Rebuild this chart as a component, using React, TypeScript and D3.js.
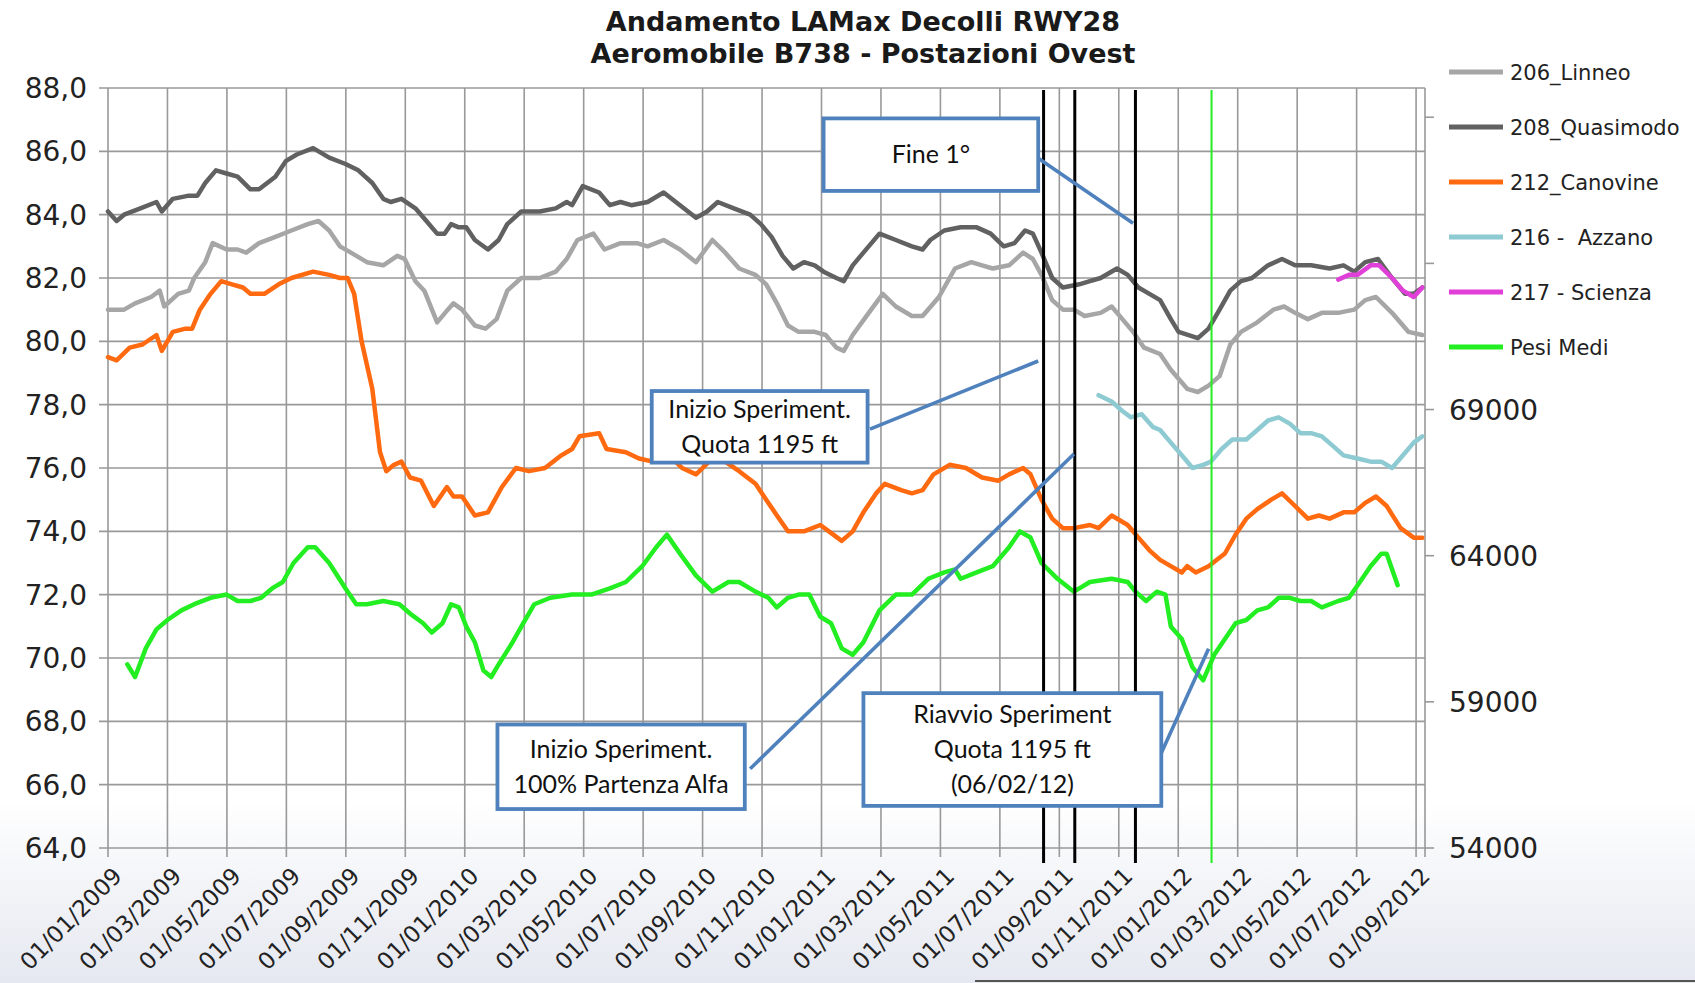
import { useEffect, useRef } from 'react'
import * as d3 from 'd3'

const W = 1695
const H = 983

// x values are months since 01/01/2009 (fractional)
const DATE_LABELS = [
  '01/01/2009', '01/03/2009', '01/05/2009', '01/07/2009', '01/09/2009', '01/11/2009',
  '01/01/2010', '01/03/2010', '01/05/2010', '01/07/2010', '01/09/2010', '01/11/2010',
  '01/01/2011', '01/03/2011', '01/05/2011', '01/07/2011', '01/09/2011', '01/11/2011',
  '01/01/2012', '01/03/2012', '01/05/2012', '01/07/2012', '01/09/2012',
]
const LEFT_TICKS = [64, 66, 68, 70, 72, 74, 76, 78, 80, 82, 84, 86, 88]
const RIGHT_TICKS = [54000, 59000, 64000, 69000, 74000, 79000]
const RIGHT_LABELS = [54000, 59000, 64000, 69000]

const LINNEO: [number, number][] = [
  [0, 81.0], [0.54, 81.0], [0.91, 81.2], [1.45, 81.4], [1.74, 81.6], [1.89, 81.1], [2.36, 81.5], [2.72, 81.6],
  [2.9, 82.0], [3.27, 82.5], [3.52, 83.1], [3.99, 82.9], [4.36, 82.9], [4.65, 82.8], [5.08, 83.1], [5.63, 83.3],
  [6.17, 83.5], [6.72, 83.7], [7.08, 83.8], [7.44, 83.5], [7.8, 83.0], [8.17, 82.8], [8.71, 82.5], [9.26, 82.4],
  [9.73, 82.7], [9.98, 82.6], [10.34, 81.9], [10.64, 81.6], [11.07, 80.6], [11.43, 81.0], [11.62, 81.2], [11.91, 81.0],
  [12.34, 80.5], [12.7, 80.4], [13.07, 80.7], [13.43, 81.6], [13.9, 82.0], [14.52, 82.0], [15.06, 82.2], [15.43, 82.6],
  [15.79, 83.2], [16.33, 83.4], [16.7, 82.9], [17.24, 83.1], [17.79, 83.1], [18.15, 83.0], [18.69, 83.2], [19.24, 82.9],
  [19.78, 82.5], [20.33, 83.2], [20.76, 82.8], [21.23, 82.3], [21.78, 82.1], [22.14, 81.8], [22.5, 81.2], [22.87, 80.5],
  [23.23, 80.3], [23.77, 80.3], [24.14, 80.2], [24.5, 79.8], [24.75, 79.7], [25.05, 80.2], [25.59, 80.9], [26.06, 81.5],
  [26.5, 81.1], [27.04, 80.8], [27.4, 80.8], [27.95, 81.4], [28.49, 82.3], [29.04, 82.5], [29.4, 82.4], [29.76, 82.3],
  [30.31, 82.4], [30.78, 82.8], [31.11, 82.6], [31.4, 82.1], [31.76, 81.3], [32.12, 81.0], [32.49, 81.0], [32.85, 80.8],
  [33.39, 80.9], [33.76, 81.1], [34.12, 80.7], [34.48, 80.3], [34.85, 79.8], [35.39, 79.6], [35.75, 79.1], [36.3, 78.5],
  [36.66, 78.4], [37.02, 78.6], [37.39, 78.9], [37.75, 79.9], [38.11, 80.3], [38.66, 80.6], [39.2, 81.0], [39.56, 81.1],
  [39.93, 80.9], [40.36, 80.7], [40.83, 80.9], [41.38, 80.9], [41.92, 81.0], [42.29, 81.3], [42.65, 81.4], [43.19, 80.9],
  [43.74, 80.3], [44.21, 80.2],
]

const QUASIMODO: [number, number][] = [
  [0, 84.1], [0.29, 83.8], [0.54, 84.0], [1.09, 84.2], [1.63, 84.4], [1.81, 84.1], [2.18, 84.5], [2.72, 84.6],
  [3.01, 84.6], [3.27, 85.0], [3.63, 85.4], [3.99, 85.3], [4.36, 85.2], [4.79, 84.8], [5.08, 84.8], [5.63, 85.2],
  [5.99, 85.7], [6.35, 85.9], [6.9, 86.1], [7.44, 85.8], [7.99, 85.6], [8.42, 85.4], [8.89, 85.0], [9.26, 84.5],
  [9.51, 84.4], [9.87, 84.5], [10.34, 84.2], [10.71, 83.8], [11.07, 83.4], [11.32, 83.4], [11.54, 83.7], [11.8, 83.6],
  [12.05, 83.6], [12.34, 83.2], [12.78, 82.9], [13.14, 83.2], [13.43, 83.7], [13.9, 84.1], [14.52, 84.1], [15.06, 84.2],
  [15.43, 84.4], [15.61, 84.3], [15.97, 84.9], [16.52, 84.7], [16.88, 84.3], [17.24, 84.4], [17.6, 84.3], [18.15, 84.4],
  [18.69, 84.7], [19.24, 84.3], [19.78, 83.9], [20.15, 84.1], [20.51, 84.4], [21.05, 84.2], [21.6, 84.0], [21.96, 83.7],
  [22.32, 83.3], [22.69, 82.7], [23.05, 82.3], [23.41, 82.5], [23.77, 82.4], [24.07, 82.2], [24.5, 82.0], [24.75, 81.9],
  [25.05, 82.4], [25.41, 82.8], [25.95, 83.4], [26.5, 83.2], [27.04, 83.0], [27.4, 82.9], [27.66, 83.2], [28.13, 83.5],
  [28.68, 83.6], [29.22, 83.6], [29.69, 83.4], [30.13, 83.0], [30.49, 83.1], [30.85, 83.5], [31.11, 83.4], [31.4, 82.8],
  [31.76, 82.0], [32.12, 81.7], [32.67, 81.8], [33.03, 81.9], [33.39, 82.0], [33.94, 82.3], [34.3, 82.1], [34.66, 81.7],
  [35.03, 81.5], [35.39, 81.3], [35.75, 80.7], [36.01, 80.3], [36.66, 80.1], [37.02, 80.4], [37.39, 81.0], [37.75, 81.6],
  [38.11, 81.9], [38.48, 82.0], [39.02, 82.4], [39.49, 82.6], [39.93, 82.4], [40.47, 82.4], [41.09, 82.3], [41.56, 82.4],
  [41.92, 82.2], [42.29, 82.5], [42.72, 82.6], [43.19, 82.0], [43.63, 81.5], [43.92, 81.5], [44.21, 81.7],
]

const CANOVINE: [number, number][] = [
  [0, 79.5], [0.29, 79.4], [0.73, 79.8], [1.16, 79.9], [1.63, 80.2], [1.81, 79.7], [2.18, 80.3], [2.61, 80.4],
  [2.83, 80.4], [3.09, 81.0], [3.45, 81.5], [3.81, 81.9], [4.17, 81.8], [4.54, 81.7], [4.79, 81.5], [5.26, 81.5],
  [5.74, 81.8], [6.17, 82.0], [6.9, 82.2], [7.44, 82.1], [7.8, 82.0], [8.06, 82.0], [8.28, 81.5], [8.53, 80.0],
  [8.89, 78.5], [9.15, 76.5], [9.36, 75.9], [9.62, 76.1], [9.87, 76.2], [10.16, 75.7], [10.53, 75.6], [10.96, 74.8],
  [11.4, 75.4], [11.62, 75.1], [11.91, 75.1], [12.34, 74.5], [12.78, 74.6], [13.25, 75.4], [13.72, 76.0], [14.16, 75.9],
  [14.7, 76.0], [15.25, 76.4], [15.61, 76.6], [15.86, 77.0], [16.52, 77.1], [16.77, 76.6], [17.42, 76.5], [17.86, 76.3],
  [18.33, 76.2], [18.87, 76.4], [19.31, 76.0], [19.78, 75.8], [20.33, 76.3], [20.76, 76.2], [21.23, 75.9], [21.78, 75.5],
  [22.14, 75.0], [22.5, 74.5], [22.87, 74.0], [23.41, 74.0], [23.96, 74.2], [24.25, 74.0], [24.68, 73.7], [25.05, 74.0],
  [25.41, 74.6], [25.84, 75.2], [26.13, 75.5], [26.68, 75.3], [27.04, 75.2], [27.4, 75.3], [27.77, 75.8], [28.31, 76.1],
  [28.86, 76.0], [29.4, 75.7], [29.95, 75.6], [30.31, 75.8], [30.78, 76.0], [31.03, 75.8], [31.4, 75.0], [31.76, 74.4],
  [32.12, 74.1], [32.49, 74.1], [33.03, 74.2], [33.32, 74.1], [33.76, 74.5], [34.3, 74.2], [34.66, 73.8], [35.03, 73.4],
  [35.39, 73.1], [35.75, 72.9], [36.12, 72.7], [36.3, 72.9], [36.59, 72.7], [37.02, 72.9], [37.57, 73.3], [37.93, 73.9],
  [38.29, 74.4], [38.66, 74.7], [39.13, 75.0], [39.49, 75.2], [39.93, 74.8], [40.36, 74.4], [40.73, 74.5], [41.09, 74.4],
  [41.56, 74.6], [41.92, 74.6], [42.29, 74.9], [42.65, 75.1], [43.01, 74.8], [43.48, 74.1], [43.92, 73.8], [44.21, 73.8],
]

const AZZANO: [number, number][] = [
  [33.32, 78.3], [33.76, 78.1], [34.12, 77.8], [34.41, 77.6], [34.77, 77.7], [35.14, 77.3], [35.39, 77.2], [35.75, 76.8],
  [36.12, 76.4], [36.48, 76.0], [36.84, 76.1], [37.1, 76.2], [37.46, 76.6], [37.82, 76.9], [38.29, 76.9], [38.66, 77.2],
  [39.02, 77.5], [39.38, 77.6], [39.75, 77.4], [40.11, 77.1], [40.47, 77.1], [40.83, 77.0], [41.2, 76.7], [41.56, 76.4],
  [42.03, 76.3], [42.47, 76.2], [42.83, 76.2], [43.19, 76.0], [43.56, 76.4], [43.92, 76.8], [44.21, 77.0],
]

const SCIENZA: [number, number][] = [
  [41.38, 81.95], [41.74, 82.1], [42.03, 82.1], [42.47, 82.4], [42.76, 82.4], [43.19, 82.0], [43.56, 81.6],
  [43.92, 81.4], [44.21, 81.7],
]

// average weights (kg), right axis
const PESI_MEDI: [number, number][] = [
  [0.65, 60280], [0.91, 59850], [1.27, 60830], [1.63, 61480], [2.0, 61800], [2.47, 62130], [2.9, 62340], [3.45, 62560],
  [3.99, 62670], [4.36, 62450], [4.79, 62450], [5.15, 62560], [5.52, 62880], [5.88, 63100], [6.24, 63750], [6.72, 64290],
  [6.97, 64290], [7.44, 63750], [7.99, 62880], [8.35, 62340], [8.71, 62340], [9.26, 62450], [9.8, 62340], [10.16, 62020],
  [10.6, 61690], [10.89, 61370], [11.25, 61690], [11.54, 62340], [11.8, 62230], [12.05, 61580], [12.34, 61040], [12.63, 60070],
  [12.89, 59850], [13.14, 60280], [13.61, 61040], [13.97, 61690], [14.34, 62340], [14.88, 62560], [15.61, 62670], [16.26, 62670],
  [16.88, 62880], [17.42, 63100], [17.97, 63640], [18.44, 64290], [18.8, 64720], [19.24, 64070], [19.78, 63320], [20.33, 62770],
  [20.87, 63100], [21.23, 63100], [21.78, 62770], [22.21, 62560], [22.5, 62230], [22.87, 62560], [23.23, 62670], [23.59, 62670],
  [23.96, 61910], [24.32, 61690], [24.68, 60830], [25.05, 60610], [25.41, 61040], [25.95, 62130], [26.5, 62670], [27.04, 62670],
  [27.59, 63210], [28.13, 63430], [28.49, 63530], [28.68, 63210], [29.22, 63430], [29.76, 63640], [30.31, 64290], [30.67, 64830],
  [31.03, 64620], [31.4, 63750], [31.94, 63210], [32.49, 62770], [33.03, 63100], [33.76, 63210], [34.3, 63100], [34.56, 62770],
  [34.92, 62450], [35.28, 62770], [35.57, 62670], [35.75, 61580], [36.12, 61150], [36.48, 60180], [36.84, 59740], [37.21, 60610],
  [37.57, 61150], [37.93, 61690], [38.29, 61800], [38.66, 62130], [39.02, 62230], [39.38, 62560], [39.75, 62560], [40.11, 62450],
  [40.47, 62450], [40.83, 62230], [41.38, 62450], [41.74, 62560], [42.11, 63100], [42.47, 63640], [42.83, 64070], [43.01, 64070],
  [43.38, 62990],
]

const SERIES = [
  { name: '206_Linneo', color: '#a6a6a6', data: LINNEO, axis: 'left' },
  { name: '208_Quasimodo', color: '#616161', data: QUASIMODO, axis: 'left' },
  { name: '212_Canovine', color: '#ff6a10', data: CANOVINE, axis: 'left' },
  { name: '216 -  Azzano', color: '#8ecad2', data: AZZANO, axis: 'left' },
  { name: '217 - Scienza', color: '#e040d8', data: SCIENZA, axis: 'left' },
  { name: 'Pesi Medi', color: '#22ee22', data: PESI_MEDI, axis: 'right' },
]

// event markers (months since 01/01/2009)
const EVENTS = [
  { m: 31.47, color: '#000', width: 3 },
  { m: 32.52, color: '#000', width: 3 },
  { m: 34.56, color: '#000', width: 3 },
  { m: 37.12, color: '#22ee22', width: 2 },
]

// callouts: box in (month, value) units, connector from -> to
const NOTES = [
  { lines: ['Fine 1°'], box: [24.07, 87.04, 31.29, 84.75], from: [31.29, 85.78], to: [34.48, 83.73] },
  { lines: ['Inizio Speriment.', 'Quota 1195 ft'], box: [18.29, 78.43, 25.55, 76.17], from: [25.63, 77.23], to: [31.29, 79.38] },
  { lines: ['Inizio Speriment.', '100% Partenza Alfa'], box: [13.1, 67.9, 21.42, 65.23], from: [21.6, 66.5], to: [32.49, 76.44] },
  { lines: ['Riavvio Speriment', 'Quota 1195 ft', '(06/02/12)'], box: [25.41, 68.89, 35.43, 65.33], from: [35.43, 67.0], to: [37.02, 70.29] },
]

const AXIS_FONT = "'DejaVu Sans', Verdana, sans-serif"
const NOTE_FONT = "Lato, 'Open Sans', sans-serif"

export default function App() {
  const svgRef = useRef<SVGSVGElement>(null)

  useEffect(() => {
    const svg = d3.select(svgRef.current)
    svg.selectAll('*').remove()

    const x = d3.scaleLinear().domain([0, 44.3]).range([108, 1425])
    const yL = d3.scaleLinear().domain([64, 88]).range([848, 88])
    const yR = d3.scaleLinear().domain([54000, 80000]).range([848, 88])
    const top = yL(88)
    const bottom = yL(64)

    const defs = svg.append('defs')
    const grad = defs.append('linearGradient').attr('id', 'bg').attr('x1', 0).attr('x2', 0).attr('y1', 0).attr('y2', 1)
    grad.append('stop').attr('offset', '0%').attr('stop-color', '#ffffff')
    grad.append('stop').attr('offset', '100%').attr('stop-color', '#e5e8f0')

    svg.append('rect').attr('width', W).attr('height', H).attr('fill', '#fff')
    svg.append('rect').attr('y', 800).attr('width', W).attr('height', H - 800).attr('fill', 'url(#bg)')
    svg.append('line').attr('x1', 975).attr('x2', W).attr('y1', H - 2).attr('y2', H - 2)
      .attr('stroke', '#555').attr('stroke-width', 2)

    // title
    const title = svg.append('text').attr('x', 863).attr('text-anchor', 'middle')
      .attr('font-family', AXIS_FONT).attr('font-weight', 'bold').attr('font-size', 27).attr('fill', '#1a1a1a')
    title.append('tspan').attr('x', 863).attr('y', 31).text('Andamento LAMax Decolli RWY28')
    title.append('tspan').attr('x', 863).attr('y', 63).text('Aeromobile B738 - Postazioni Ovest')

    const grid = svg.append('g').attr('stroke', '#999').attr('stroke-width', 1.6)
    LEFT_TICKS.forEach((t) => {
      grid.append('line').attr('x1', x(0) - 9).attr('x2', x(44.3)).attr('y1', yL(t)).attr('y2', yL(t))
    })
    DATE_LABELS.forEach((_, i) => {
      grid.append('line').attr('x1', x(i * 2)).attr('x2', x(i * 2)).attr('y1', top).attr('y2', bottom + 9)
    })
    grid.append('line').attr('x1', x(44.3)).attr('x2', x(44.3)).attr('y1', top).attr('y2', bottom + 9)
    RIGHT_TICKS.forEach((t) => {
      grid.append('line').attr('x1', x(44.3)).attr('x2', x(44.3) + 9).attr('y1', yR(t)).attr('y2', yR(t))
    })

    // left labels
    svg.append('g').selectAll('text').data(LEFT_TICKS).join('text')
      .attr('x', 87).attr('y', (d) => yL(d)).attr('dy', '0.36em').attr('text-anchor', 'end')
      .attr('font-family', AXIS_FONT).attr('font-size', 28).attr('fill', '#222')
      .text((d) => d.toFixed(1).replace('.', ','))

    // right labels
    svg.append('g').selectAll('text').data(RIGHT_LABELS).join('text')
      .attr('x', 1449).attr('y', (d) => yR(d)).attr('dy', '0.36em')
      .attr('font-family', AXIS_FONT).attr('font-size', 28).attr('fill', '#222')
      .text((d) => d)

    // date labels
    svg.append('g').selectAll('text').data(DATE_LABELS).join('text')
      .attr('transform', (_, i) => `translate(${x(i * 2) + 4},${bottom + 18}) rotate(-45)`)
      .attr('text-anchor', 'end').attr('dy', '0.7em')
      .attr('font-family', AXIS_FONT).attr('font-size', 23).attr('fill', '#222')
      .text((d) => d)

    // series
    SERIES.forEach((s) => {
      const yS = s.axis === 'right' ? yR : yL
      const line = d3.line<[number, number]>().x((d) => x(d[0])).y((d) => yS(d[1]))
      svg.append('path').datum(s.data).attr('d', line)
        .attr('fill', 'none').attr('stroke', s.color).attr('stroke-width', 4.5)
        .attr('stroke-linejoin', 'round').attr('stroke-linecap', 'round')
    })

    // event lines
    EVENTS.forEach((e) => {
      svg.append('line').attr('x1', x(e.m)).attr('x2', x(e.m)).attr('y1', top + 2).attr('y2', bottom + 15)
        .attr('stroke', e.color).attr('stroke-width', e.width)
    })

    // callouts
    NOTES.forEach((n) => {
      svg.append('line').attr('x1', x(n.from[0])).attr('y1', yL(n.from[1]))
        .attr('x2', x(n.to[0])).attr('y2', yL(n.to[1]))
        .attr('stroke', '#4f81bd').attr('stroke-width', 3.6)
      const [m0, v0, m1, v1] = n.box
      const bx = x(m0), by = yL(v0), bw = x(m1) - x(m0), bh = yL(v1) - yL(v0)
      svg.append('rect').attr('x', bx).attr('y', by).attr('width', bw).attr('height', bh)
        .attr('fill', '#fff').attr('stroke', '#4f81bd').attr('stroke-width', 3.8)
      const lh = 35
      const y0 = by + bh / 2 - ((n.lines.length - 1) * lh) / 2
      n.lines.forEach((t, i) => {
        svg.append('text').attr('x', bx + bw / 2).attr('y', y0 + i * lh).attr('dy', '0.35em')
          .attr('text-anchor', 'middle').attr('font-family', NOTE_FONT).attr('font-size', 25)
          .attr('fill', '#111').text(t)
      })
    })

    // legend
    const lg = svg.append('g')
    SERIES.forEach((s, i) => {
      const yy = 72 + i * 55
      lg.append('line').attr('x1', 1449).attr('x2', 1503).attr('y1', yy).attr('y2', yy)
        .attr('stroke', s.color).attr('stroke-width', 5)
      lg.append('text').attr('x', 1510).attr('y', yy).attr('dy', '0.36em')
        .attr('font-family', AXIS_FONT).attr('font-size', 21).attr('fill', '#222')
        .attr('xml:space', 'preserve').style('white-space', 'pre').text(s.name)
    })
  }, [])

  return (
    <svg
      ref={svgRef}
      width={W}
      height={H}
      style={{ position: 'absolute', left: 0, top: 0, display: 'block' }}
    />
  )
}
